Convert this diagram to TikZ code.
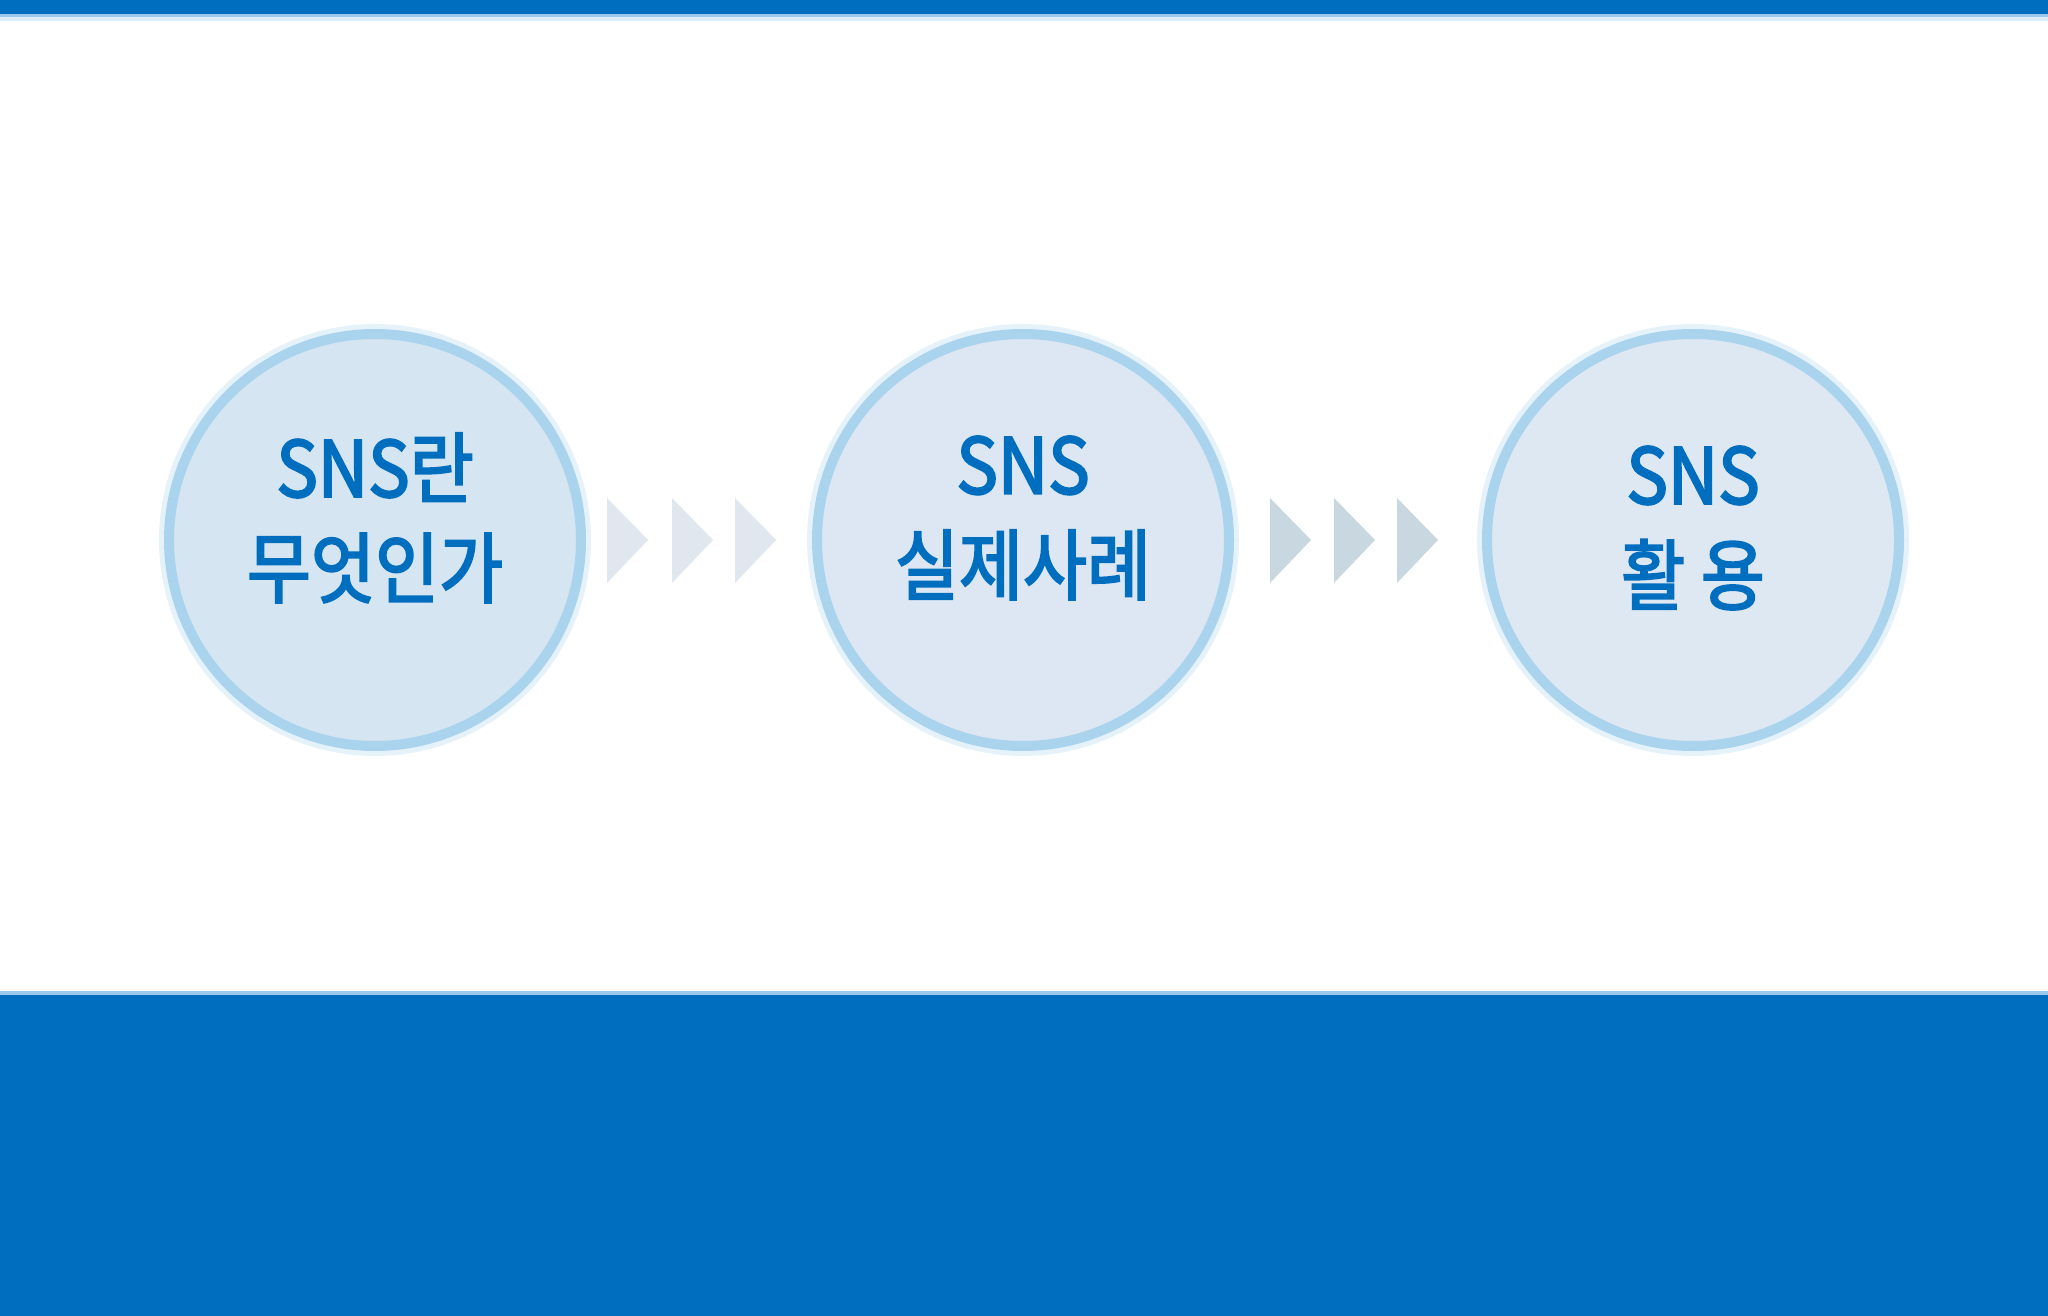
\documentclass[tikz,border=0pt]{standalone}
\usepackage{fontspec}
\newfontfamily\kor[FakeStretch=0.9,FakeBold=2.6]{Noto Sans CJK KR}
\usetikzlibrary{calc}

\definecolor{bandblue}{HTML}{006EBF}
\definecolor{edgeblue}{HTML}{9CC9EC}
\definecolor{ringblue}{HTML}{AAD4EE}
\definecolor{fillA}{HTML}{D5E5F2}
\definecolor{fillB}{HTML}{DCE7F3}
\definecolor{fillC}{HTML}{DEE8F3}
\definecolor{triA}{HTML}{E1E7EF}
\definecolor{triB}{HTML}{C9D7E1}

\tikzset{
  glow/.style={circle,draw=ringblue,line width=1.6mm,draw opacity=.3,minimum size=41.6mm,inner sep=0},
  stage/.style={circle,draw=ringblue,line width=1mm,minimum size=41.2mm,inner sep=0},
  lbl/.style={align=center,text=bandblue,font=\kor\fontsize{22}{28.5}\selectfont}
}

\begin{document}
\begin{tikzpicture}[x=0.1mm,y=-0.1mm]
\useasboundingbox (0,0) rectangle (2048,1316);
% bands
\fill[bandblue] (0,0) rectangle (2048,14);
\fill[edgeblue] (0,14) rectangle (2048,17);
\fill[edgeblue!35] (0,17) rectangle (2048,21);
\fill[edgeblue] (0,991) rectangle (2048,995);
\fill[bandblue] (0,995) rectangle (2048,1316);

% circles
\node[glow] (g1) at (375,540) {};
\node[glow] (g2) at (1023,540) {};
\node[glow] (g3) at (1693,540) {};
\node[stage,fill=fillA] (s1) at (375,540) {};
\node[stage,fill=fillB] (s2) at (1023,540) {};
\node[stage,fill=fillC] (s3) at (1693,540) {};
\node[lbl] (l1) at ([yshift=2.2mm]s1.center) {SNS란\\무엇인가};
\node[lbl] (l2) at ([yshift=2.2mm]s2.center) {SNS\\실제사례};
\node[lbl] (l3) at ([yshift=1.2mm]s3.center) {SNS\\활 용};

% arrows
\fill[triA] (607,498) -- (648,540) -- (607,583) -- cycle;
\fill[triA] (672,498) -- (713,540) -- (672,583) -- cycle;
\fill[triA] (735,498) -- (776,540) -- (735,583) -- cycle;
\fill[triB] (1270,498) -- (1311,540) -- (1270,583) -- cycle;
\fill[triB] (1334,498) -- (1375,540) -- (1334,583) -- cycle;
\fill[triB] (1397,498) -- (1438,540) -- (1397,583) -- cycle;
\end{tikzpicture}
\end{document}
